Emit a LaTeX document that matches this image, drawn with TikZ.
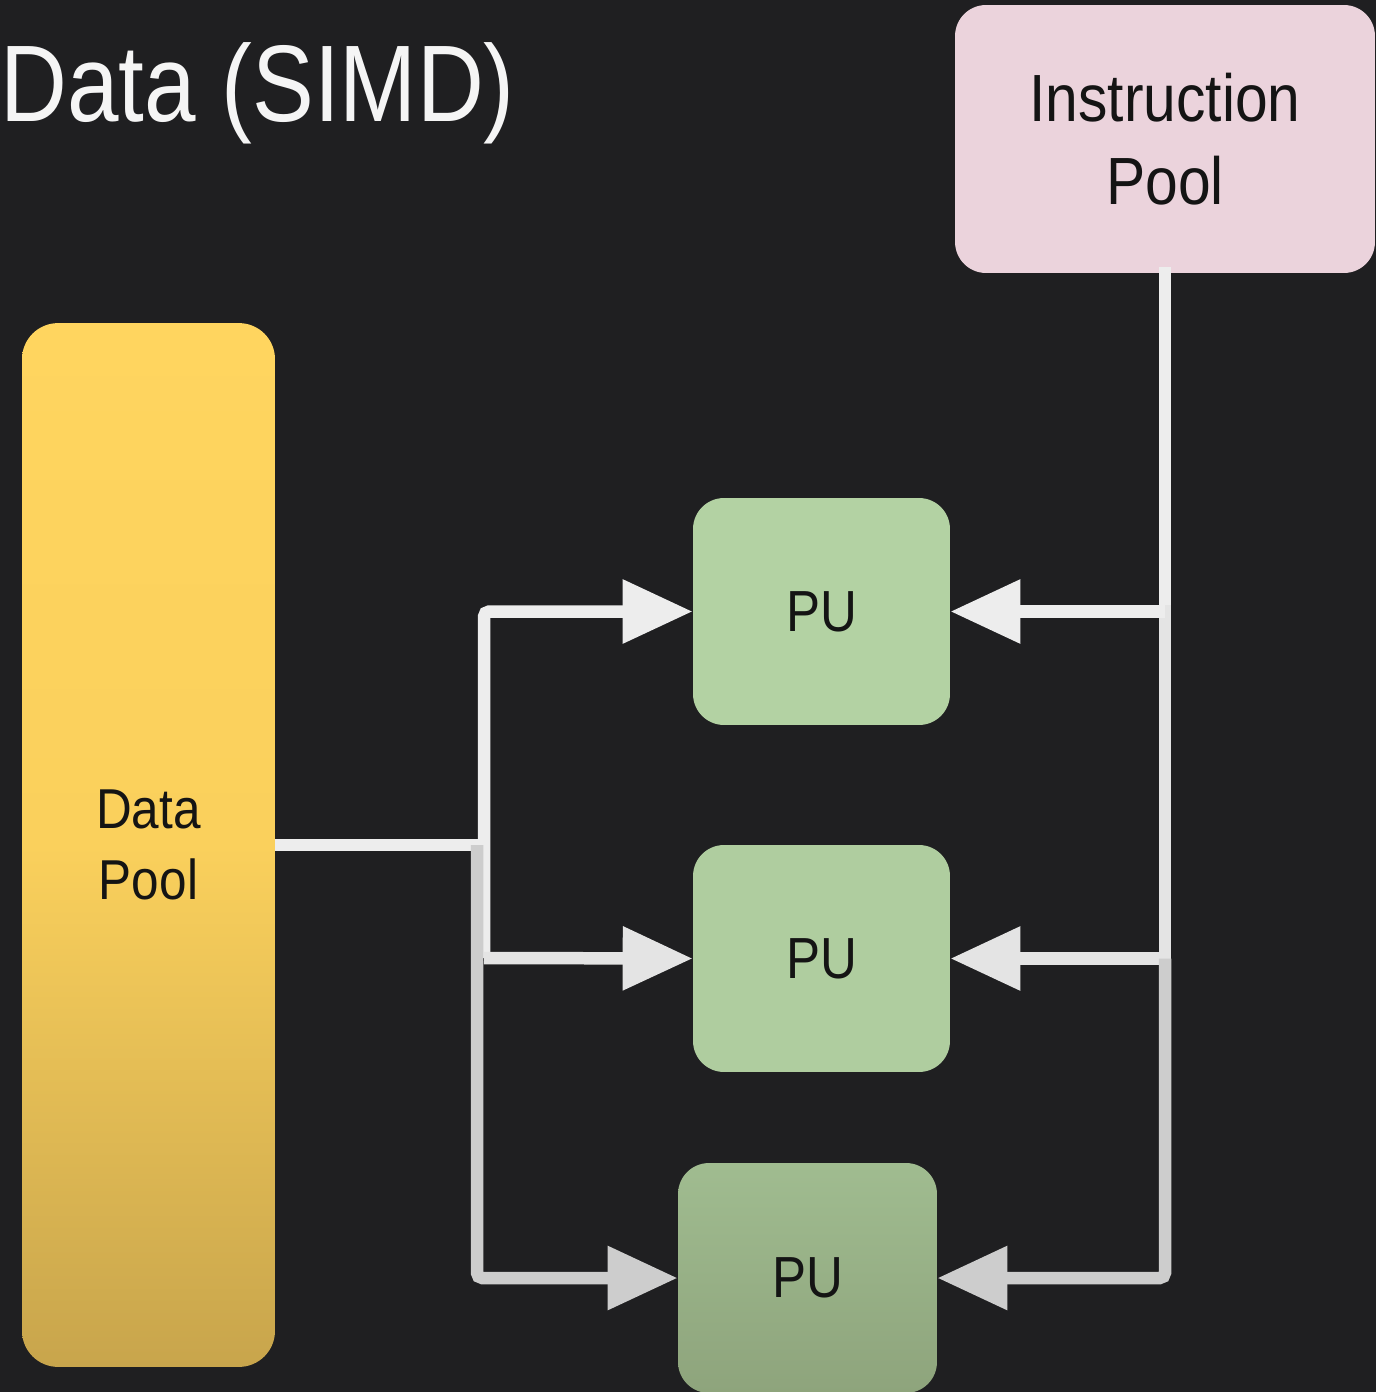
\documentclass[tikz,border=0pt]{standalone}
\usepackage{fontspec}
\setmainfont{Liberation Sans}
\usetikzlibrary{arrows.meta}
\definecolor{bg}{HTML}{1F1F21}
\definecolor{pinkbox}{HTML}{EBD3DC}
\definecolor{gold1}{HTML}{FFD55F}
\definecolor{gold2}{HTML}{FAD05C}
\definecolor{gold3}{HTML}{C8A54C}
\definecolor{puA}{HTML}{B3D2A3}
\definecolor{puB}{HTML}{AFCD9F}
\definecolor{puC1}{HTML}{A0BC90}
\definecolor{puC2}{HTML}{8EA47C}
\definecolor{wireA}{HTML}{EDEDED}
\definecolor{wireB}{HTML}{E4E4E4}
\definecolor{wireC}{HTML}{CDCDCD}
\definecolor{ink}{HTML}{141414}
\newcommand\narrow[1]{\scalebox{0.88}[1]{#1}}
\tikzset{
  box/.style={rounded corners=0.62cm, inner sep=0pt, align=center, text=ink},
  pubox/.style={box, minimum width=5.14cm, minimum height=4.54cm,
    font=\fontsize{33pt}{40pt}\selectfont},
  wire/.style={line width=0.25cm},
  arr/.style={wire, -{Triangle[length=1.4cm, width=1.22cm]}},
}
\begin{document}
\begin{tikzpicture}[x=0.02cm, y=-0.02cm]
  % canvas
  \fill[bg] (0,0) rectangle (1376,1392);
  \useasboundingbox (0,0) rectangle (1376,1392);

  % heading
  \node[anchor=base west, inner sep=0pt, text=white!96!black,
        font=\fontsize{62pt}{70pt}\selectfont] (title) at (0,122)
        {\scalebox{0.85}[1]{Data (SIMD)}};

  % pools
  \node[box, fill=pinkbox, minimum width=8.4cm, minimum height=5.36cm,
        font=\fontsize{38pt}{47.5pt}\selectfont] (ip) at (1165,139)
        {\narrow{Instruction}\\\narrow{Pool}};
  \node[box, rounded corners=0.72cm, top color=gold1, bottom color=gold3,
        middle color=gold2, minimum width=5.06cm, minimum height=20.88cm,
        font=\fontsize{32pt}{40pt}\selectfont] (dp) at (148.5,845)
        {\narrow{Data}\\\narrow{Pool}};

  % processing units
  \node[pubox, fill=puA] (pu1) at (821.5,611.5) {\narrow{PU}};
  \node[pubox, fill=puB] (pu2) at (821.5,958.5) {\narrow{PU}};
  \node[pubox, top color=puC1, bottom color=puC2, minimum width=5.18cm,
        minimum height=4.6cm] (pu3) at (807.5,1278) {\narrow{PU}};

  % data distribution
  \coordinate (dj) at (484,845);
  \coordinate (ta) at (484,958);
  \coordinate (tc) at (477,845);
  \draw[wire, wireA] (dp.east) -- (dj);
  \draw[arr, wireA, rounded corners=3pt] (ta) |- (pu1.west);
  \draw[arr, wireB] (ta) -- (pu2.west);
  \draw[arr, wireC, rounded corners=3pt] (tc) |- (pu3.west);

  % instruction broadcast
  \coordinate (r1) at (ip.south |- pu1.east);
  \coordinate (r2) at (ip.south |- pu2.east);
  \draw[wire, wireA, line cap=rect] (ip.south) -- (r1);
  \draw[wire, wireB, line cap=rect] (r1) -- (r2);
  \draw[arr, wireA] (r1) -- (pu1.east);
  \draw[arr, wireB] (r2) -- (pu2.east);
  \draw[arr, wireC, rounded corners=3pt] (r2) |- (pu3.east);
\end{tikzpicture}
\end{document}
